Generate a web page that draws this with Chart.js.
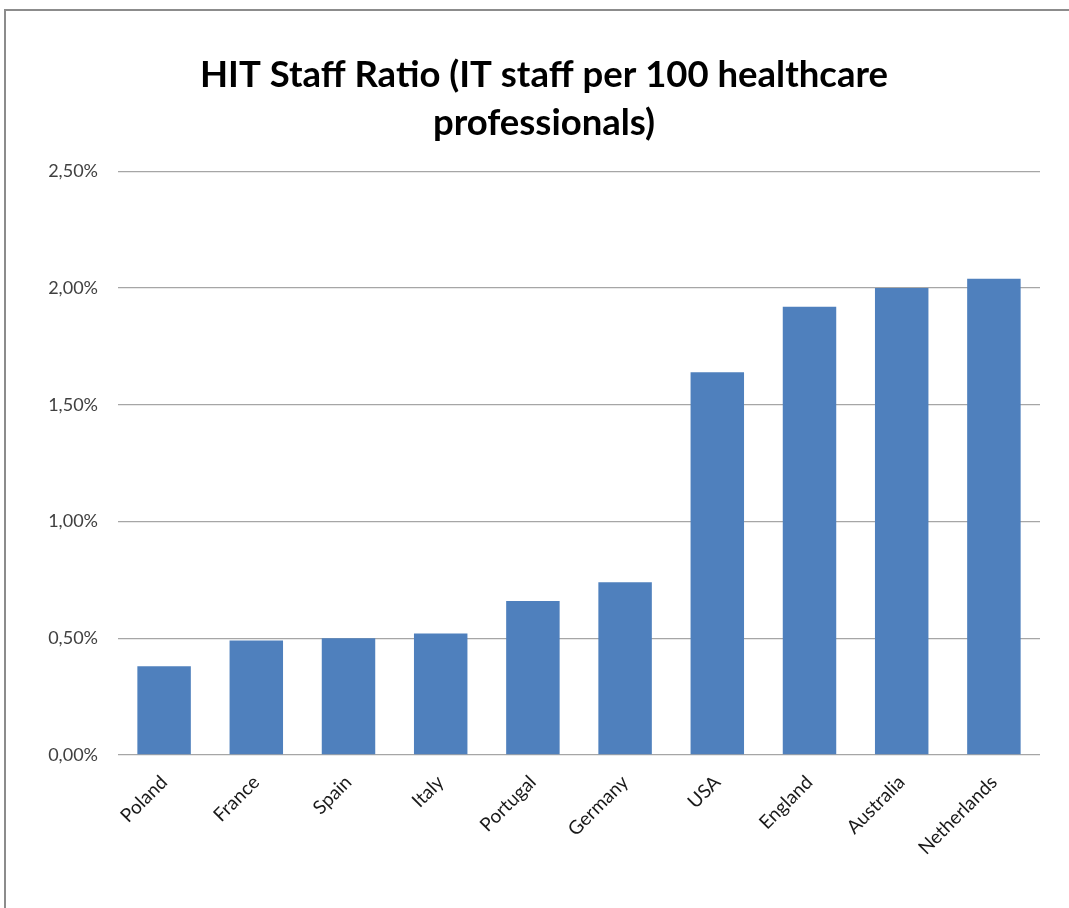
<!DOCTYPE html>
<html>
<head>
<meta charset="utf-8">
<script src="https://cdn.jsdelivr.net/npm/chart.js@4.4.0/dist/chart.umd.min.js"></script>
<style>
  html, body { margin: 0; padding: 0; background: #fff; overflow: hidden; }
  canvas { display: block; }
</style>
</head>
<body>
<canvas id="hitChart" width="1069" height="908"></canvas>
<script>
// countries, sorted by ratio
const countries = ['Poland', 'France', 'Spain', 'Italy', 'Portugal', 'Germany', 'USA', 'England', 'Australia', 'Netherlands'];
// IT staff per 100 healthcare professionals, in %
const staffRatio = [0.38, 0.49, 0.50, 0.52, 0.66, 0.74, 1.64, 1.92, 2.00, 2.04];
const yTicks = [0, 0.5, 1.0, 1.5, 2.0, 2.5];

const FONT = "Lato, 'Open Sans', sans-serif";

// grey frame along the top and left edge of the chart object
const framePlugin = {
    id: 'frame',
    beforeDraw(chart) {
        const c = chart.ctx;
        c.save();
        c.strokeStyle = '#8c8c8c';
        c.lineWidth = 2;
        c.beginPath();
        c.moveTo(5, chart.height);
        c.lineTo(5, 10);
        c.lineTo(chart.width, 10);
        c.stroke();
        c.restore();
    }
};

const ctx = document.getElementById('hitChart').getContext('2d');

const hitChart = new Chart(ctx, {
    type: 'bar',
    data: {
        labels: countries,
        datasets: [{
            label: 'HIT Staff Ratio',
            data: staffRatio,
            backgroundColor: '#4f80bd',
            borderColor: '#4f80bd',
            borderWidth: 0,
            barPercentage: 0.58,
            categoryPercentage: 1.0
        }]
    },
    plugins: [framePlugin],
    options: {
        responsive: false,
        animation: false,
        // left/right padding keeps the title centred a bit right of the plot
        layout: { padding: { top: 0, right: 29, bottom: 0, left: 48 } },
        plugins: {
            legend: { display: false },
            tooltip: { enabled: false },
            title: {
                display: true,
                text: ['HIT Staff Ratio (IT staff per 100 healthcare', 'professionals)'],
                color: '#000',
                font: { family: FONT, size: 36.5, weight: 'bold', lineHeight: 1.32 },
                padding: { top: 51, bottom: 24 }
            }
        },
        scales: {
            x: {
                grid: { display: false },
                border: { display: false },
                ticks: {
                    color: '#1a1a1a',
                    font: { family: FONT, size: 19 },
                    minRotation: 45,
                    maxRotation: 45,
                    padding: 8
                },
                afterFit: function (scale) { scale.height = 153; }
            },
            y: {
                min: 0,
                max: 2.5,
                afterBuildTicks: function (scale) {
                    scale.ticks = yTicks.map(v => ({ value: v }));
                },
                grid: { color: '#a6a6a6', lineWidth: 1.3, drawTicks: false },
                border: { display: false },
                ticks: {
                    color: '#404040',
                    font: { family: FONT, size: 18 },
                    padding: 20,
                    callback: v => v.toFixed(2).replace('.', ',') + '%'
                },
                afterFit: function (scale) { scale.width = 70; }
            }
        }
    }
});
</script>
</body>
</html>
